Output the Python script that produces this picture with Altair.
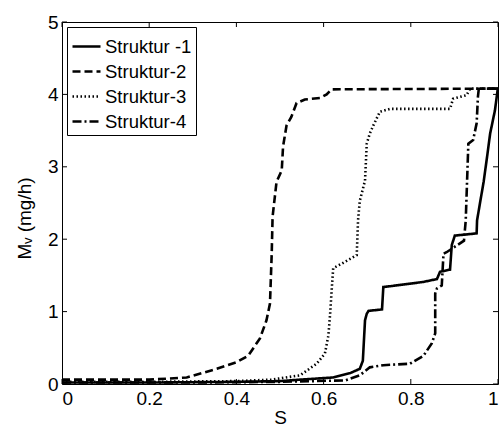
import altair as alt
import pandas as pd

series_names = ["Struktur -1", "Struktur-2", "Struktur-3", "Struktur-4"]

s1_x = [0, 0.2, 0.4, 0.5, 0.546, 0.622, 0.661, 0.683, 0.690, 0.695, 0.699, 0.703, 0.734, 0.737, 0.752, 0.829, 0.860, 0.867, 0.890, 0.894, 0.901, 0.951, 0.952, 0.959, 0.967, 0.975, 0.982, 0.993, 1.0]
s1_y = [0.02, 0.02, 0.03, 0.04, 0.06, 0.09, 0.15, 0.21, 0.32, 0.88, 0.97, 1.01, 1.03, 1.34, 1.35, 1.41, 1.45, 1.55, 1.58, 1.92, 2.05, 2.08, 2.26, 2.51, 2.79, 3.14, 3.46, 3.78, 4.10]

s2_x = [0, 0.1, 0.2, 0.286, 0.355, 0.40, 0.427, 0.454, 0.469, 0.477, 0.481, 0.483, 0.492, 0.504, 0.507, 0.515, 0.526, 0.538, 0.557, 0.592, 0.607, 0.618, 1.0]
s2_y = [0.06, 0.06, 0.06, 0.09, 0.21, 0.30, 0.39, 0.63, 0.88, 1.11, 1.80, 2.31, 2.79, 2.95, 3.28, 3.57, 3.69, 3.88, 3.93, 3.95, 4.00, 4.07, 4.08]

s3_x = [0, 0.2, 0.4, 0.48, 0.546, 0.584, 0.603, 0.611, 0.615, 0.619, 0.622, 0.641, 0.676, 0.679, 0.683, 0.695, 0.699, 0.706, 0.714, 0.729, 0.752, 0.890, 0.897, 0.928, 0.936, 1.0]
s3_y = [0.03, 0.03, 0.04, 0.06, 0.12, 0.28, 0.42, 0.67, 0.97, 1.34, 1.60, 1.66, 1.78, 2.26, 2.53, 2.81, 3.32, 3.46, 3.57, 3.76, 3.80, 3.80, 3.94, 3.99, 4.08, 4.08]

s4_x = [0, 0.3, 0.5, 0.65, 0.683, 0.706, 0.737, 0.798, 0.829, 0.848, 0.856, 0.856, 0.860, 0.871, 0.875, 0.882, 0.922, 0.926, 0.932, 0.943, 0.951, 0.954, 0.956, 1.0]
s4_y = [0.02, 0.02, 0.03, 0.05, 0.12, 0.23, 0.26, 0.28, 0.39, 0.56, 0.70, 1.25, 1.32, 1.36, 1.80, 1.82, 1.98, 2.26, 3.32, 3.37, 3.60, 3.97, 4.08, 4.08]

x_ticks = [0, 0.2, 0.4, 0.6, 0.8, 1.0]
y_ticks = [0, 1, 2, 3, 4, 5]

rows = []
for name, xs, ys in zip(series_names, [s1_x, s2_x, s3_x, s4_x], [s1_y, s2_y, s3_y, s4_y]):
    for i, (xv, yv) in enumerate(zip(xs, ys)):
        rows.append({"series": name, "S": xv, "M": yv, "idx": i})
df = pd.DataFrame(rows)

W, H = 436, 362
FONT = "Liberation Sans"
xscale = alt.Scale(domain=[0, 1], nice=False, zero=False)
yscale = alt.Scale(domain=[0, 5], nice=False, zero=False)

lines = alt.Chart(df).mark_line(strokeCap="butt", color="black", clip=True).encode(
    x=alt.X("S:Q", scale=xscale,
            axis=alt.Axis(title="S", values=x_ticks, format="~g", ticks=False, domain=False,
                          grid=False, labelPadding=5, titlePadding=0)),
    y=alt.Y("M:Q", scale=yscale,
            axis=alt.Axis(title="Mᵥ (mg/h)", values=y_ticks, format="~g", ticks=False, domain=False,
                          grid=False, labelPadding=4, titlePadding=13, titleY=196)),
    strokeDash=alt.StrokeDash("series:N",
                              scale=alt.Scale(domain=series_names,
                                              range=[[1, 0], [8, 4], [1.5, 2.5], [9, 3, 2, 3]]),
                              legend=alt.Legend(title=None)),
    strokeWidth=alt.StrokeWidth("series:N",
                                scale=alt.Scale(domain=series_names, range=[2.6, 2.6, 1.8, 2.6]),
                                legend=alt.Legend(title=None)),
    order="idx:Q",
)

xt = pd.DataFrame({"S": x_ticks})
yt = pd.DataFrame({"M": y_ticks})

tick_bottom = alt.Chart(xt).mark_rule(color="black", strokeWidth=1).encode(
    x=alt.X("S:Q", scale=xscale), y=alt.value(H), y2=alt.value(H - 5))
tick_top = alt.Chart(xt).mark_rule(color="black", strokeWidth=1).encode(
    x=alt.X("S:Q", scale=xscale), y=alt.value(0), y2=alt.value(5))
tick_left = alt.Chart(yt).mark_rule(color="black", strokeWidth=1).encode(
    y=alt.Y("M:Q", scale=yscale), x=alt.value(0), x2=alt.value(5))
tick_right = alt.Chart(yt).mark_rule(color="black", strokeWidth=1).encode(
    y=alt.Y("M:Q", scale=yscale), x=alt.value(W), x2=alt.value(W - 5))

chart = alt.layer(lines, tick_bottom, tick_top, tick_left, tick_right).properties(
    width=W, height=H,
    autosize=alt.AutoSizeParams(type="none"),
    padding={"left": 62, "top": 22, "right": 3, "bottom": 44},
    background="white",
).configure_view(
    stroke="black", strokeWidth=1
).configure_axis(
    labelFont=FONT, labelFontSize=19, labelColor="black",
    titleFont=FONT, titleFontSize=19, titleColor="black", titleFontWeight="normal",
).configure_legend(
    orient="top-left", offset=5, padding=4,
    strokeColor="black", fillColor="white", cornerRadius=0,
    symbolType="stroke", symbolSize=784, symbolStrokeColor="black",
    labelFont=FONT, labelFontSize=18.5, labelColor="black", labelOffset=3,
    rowPadding=-3,
)

chart.save("out.html", embed_options={"renderer": "svg", "actions": False})
